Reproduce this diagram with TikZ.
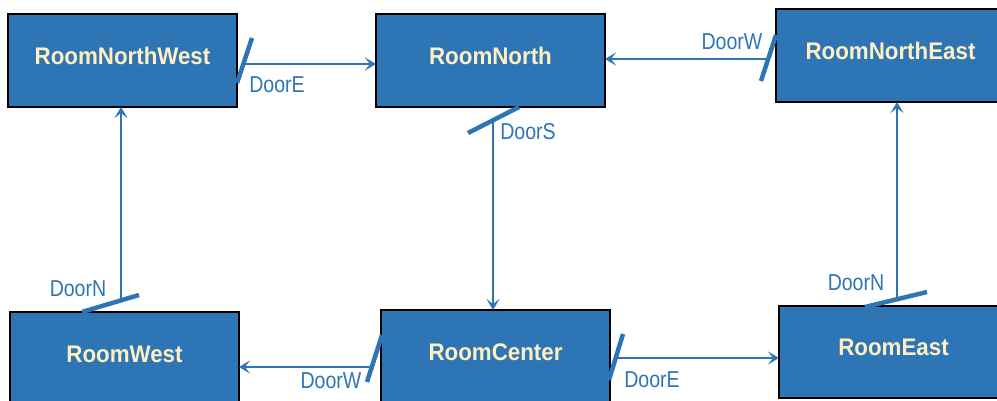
\documentclass[tikz,border=0pt]{standalone}
\usepackage{fontspec}
\setmainfont{Liberation Sans}
\newfontfamily\titlefont[FakeStretch=0.93]{Liberation Sans Bold}
\newfontfamily\doorfont[FakeStretch=0.85]{Liberation Sans}
\usetikzlibrary{arrows.meta}
\definecolor{boxblue}{HTML}{2E75B6}
\definecolor{cream}{HTML}{FFF0C4}
\tikzset{
  room/.style={draw=black, line width=1.3pt, fill=boxblue, anchor=north west,
    minimum width=229pt, minimum height=93pt, inner sep=0pt, outer sep=0pt,
    text=cream, font=\titlefont\fontsize{24}{28}\selectfont, text depth=9pt},
  conn/.style={draw=boxblue, line width=1.8pt, -{Stealth[length=11pt,width=13pt,inset=5pt]}},
  door/.style={draw=boxblue, line width=4.5pt},
  doorlabel/.style={text=boxblue, inner sep=0pt, font=\doorfont\fontsize{23}{26}\selectfont}
}
\begin{document}
\begin{tikzpicture}[x=1pt,y=-1pt]
\useasboundingbox (0,0) rectangle (997,401);
\clip (0,0) rectangle (997,401);
% rooms
\node[room] (NW) at (8,14) {RoomNorthWest};
\node[room] (N) at (376,14) {RoomNorth};
\node[room] (NE) at (776,9) {RoomNorthEast};
\node[room] (W) at (10,312) {RoomWest};
\node[room] (C) at (381,310) {RoomCenter};
\node[room, minimum height=92pt] (E) at (779,306) {RoomEast};
% door marks
\coordinate (dNWa) at (237,83); \coordinate (dNWb) at (252,38);
\coordinate (dNEa) at (761,81); \coordinate (dNEb) at (776,35);
\coordinate (dNa) at (468,133); \coordinate (dNb) at (519,107);
\coordinate (dWa) at (82,312); \coordinate (dWb) at (139,295);
\coordinate (dCWa) at (367,382); \coordinate (dCWb) at (382,335);
\coordinate (dCEa) at (609,380); \coordinate (dCEb) at (623,334);
\coordinate (dEa) at (865,307); \coordinate (dEb) at (927,292);
\foreach \d in {dNW,dNE,dN,dW,dCW,dCE,dE}{\draw[door] (\d a) -- (\d b);}
% connector start points (on the door marks)
\coordinate (sNW) at (243.3,64);
\coordinate (sNE) at (768,59);
\coordinate (sN) at (493,120);
\coordinate (sW) at (121,300);
\coordinate (sCW) at (372,367);
\coordinate (sCE) at (616,358);
\coordinate (sE) at (897,299);
% connectors
\draw[conn] (sNW) -- (sNW -| N.west);
\draw[conn] (sNE) -- (sNE -| N.east);
\draw[conn] (sN) -- (sN |- C.north);
\draw[conn] (sW) -- (sW |- NW.south);
\draw[conn] (sCW) -- (sCW -| W.east);
\draw[conn] (sCE) -- (sCE -| E.west);
\draw[conn] (sE) -- (sE |- NE.south);
% labels
\node[doorlabel] (lNW) at (277,85) {DoorE};
\node[doorlabel] (lNE) at (732,42) {DoorW};
\node[doorlabel] (lN) at (528,132) {DoorS};
\node[doorlabel] (lW) at (78,289) {DoorN};
\node[doorlabel] (lCW) at (331,381) {DoorW};
\node[doorlabel] (lCE) at (652,380) {DoorE};
\node[doorlabel] (lE) at (856,283) {DoorN};
\end{tikzpicture}
\end{document}
